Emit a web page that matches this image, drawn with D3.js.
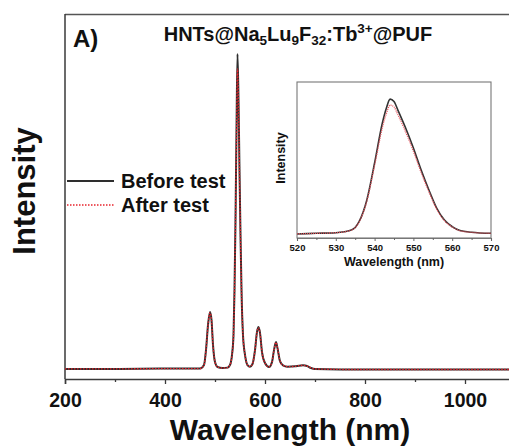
<!DOCTYPE html>
<html>
<head>
<meta charset="utf-8">
<script src="https://cdn.jsdelivr.net/npm/d3@7/dist/d3.min.js"></script>
<style>
  html, body { margin: 0; padding: 0; background: #fff; }
  svg { display: block; }
  text { font-family: "Liberation Sans", Arial, sans-serif; font-weight: bold; fill: #111; }
</style>
</head>
<body>
<svg id="chart" width="509" height="447"></svg>
<script>
// ---- Main spectrum data ----
const mainWavelength = [200, 300, 400, 450, 470, 478, 482, 486, 490, 493, 496, 500, 505, 515, 525, 530, 534, 537, 539, 541, 543, 545, 547, 549, 551, 553, 556, 560, 565, 570, 575, 580, 584, 587, 590, 594, 600, 608, 614, 618, 622, 625, 630, 636, 645, 660, 668, 676, 684, 692, 700, 800, 900, 1000, 1100];
const beforeValues   = [0.031, 0.031, 0.032, 0.032, 0.032, 0.043, 0.089, 0.166, 0.206, 0.182, 0.105, 0.052, 0.037, 0.034, 0.035, 0.043, 0.074, 0.135, 0.274, 0.489, 0.766, 1.0, 0.858, 0.643, 0.443, 0.274, 0.135, 0.074, 0.043, 0.038, 0.046, 0.089, 0.145, 0.160, 0.142, 0.083, 0.049, 0.037, 0.052, 0.089, 0.114, 0.095, 0.055, 0.042, 0.038, 0.039, 0.041, 0.042, 0.040, 0.034, 0.031, 0.029, 0.029, 0.029, 0.029];
const afterValues    = [0.031, 0.031, 0.032, 0.032, 0.032, 0.043, 0.089, 0.165, 0.204, 0.181, 0.105, 0.052, 0.037, 0.034, 0.035, 0.043, 0.074, 0.135, 0.272, 0.484, 0.750, 0.955, 0.840, 0.633, 0.438, 0.272, 0.135, 0.074, 0.043, 0.038, 0.046, 0.089, 0.144, 0.158, 0.141, 0.083, 0.049, 0.037, 0.052, 0.089, 0.113, 0.095, 0.055, 0.042, 0.038, 0.039, 0.041, 0.042, 0.040, 0.034, 0.031, 0.029, 0.029, 0.029, 0.029];
const mainXTicks = [200, 400, 600, 800, 1000];
const mainXMinor = [300, 500, 700, 900, 1100];

// ---- Inset data (zoom on 545 nm peak) ----
const insetWavelength = [520, 525, 530, 534, 536, 538, 540, 542, 543, 544, 545, 546, 548, 550, 552, 554, 556, 558, 560, 562, 565, 570];
const insetBefore     = [0.026, 0.030, 0.034, 0.051, 0.105, 0.244, 0.481, 0.737, 0.830, 0.890, 0.875, 0.820, 0.705, 0.577, 0.436, 0.308, 0.192, 0.115, 0.073, 0.048, 0.037, 0.030];
const insetAfter      = [0.026, 0.030, 0.034, 0.050, 0.102, 0.236, 0.465, 0.708, 0.795, 0.852, 0.840, 0.790, 0.680, 0.556, 0.420, 0.296, 0.185, 0.111, 0.070, 0.047, 0.036, 0.030];
const insetXTicks = [520, 530, 540, 550, 560, 570];
const insetXMinor = [525, 535, 545, 555, 565];

const seriesNames = ["Before test", "After test"];
const titleParts = [
  {t: "HNTs@Na", s: 0}, {t: "5", s: 1}, {t: "Lu", s: 0}, {t: "9", s: 1},
  {t: "F", s: 0}, {t: "32", s: 1}, {t: ":Tb", s: 0}, {t: "3+", s: -1}, {t: "@PUF", s: 0}
];

const svg = d3.select("#chart");
const AX = "#3a3a3a";

// ---- main scales ----
const x = d3.scaleLinear().domain([200, 1100]).range([65, 515]);
const y = d3.scaleLinear().domain([0, 1.123]).range([379, 14]);

// frame: top and left, bottom axis
svg.append("line").attr("x1", 65).attr("x2", 520).attr("y1", 14.5).attr("y2", 14.5)
  .attr("stroke", "#555").attr("stroke-width", 1.5);
svg.append("line").attr("x1", 65).attr("x2", 65).attr("y1", 14).attr("y2", 379)
  .attr("stroke", AX).attr("stroke-width", 1.5);
svg.append("line").attr("x1", 515).attr("x2", 515).attr("y1", 14).attr("y2", 379)
  .attr("stroke", AX).attr("stroke-width", 1.5);

const xAxis = d3.axisBottom(x).tickValues(mainXTicks).tickSize(5).tickPadding(9).tickFormat(d3.format("d"));
const gx = svg.append("g").attr("transform", "translate(0,379)").call(xAxis);
gx.select(".domain").attr("stroke", AX).attr("stroke-width", 1.5);
gx.selectAll(".tick line").attr("stroke", AX).attr("stroke-width", 1.3);
gx.selectAll(".tick text").style("font-size", "19.5px").style("font-family", "Liberation Sans, Arial, sans-serif").style("font-weight", "bold").attr("fill", "#111");
const gxm = svg.append("g").attr("transform", "translate(0,379)")
  .call(d3.axisBottom(x).tickValues(mainXMinor).tickSize(3).tickFormat(""));
gxm.select(".domain").remove();
gxm.selectAll(".tick line").attr("stroke", AX).attr("stroke-width", 1.3);

// lines
const lineMain = (vals) => d3.line()
  .x((d, i) => x(mainWavelength[i]))
  .y((d) => y(d))
  .curve(d3.curveMonotoneX)(vals);

svg.append("path").attr("d", lineMain(beforeValues))
  .attr("fill", "none").attr("stroke", "#2e2e2e").attr("stroke-width", 2);
svg.append("path").attr("d", lineMain(afterValues))
  .attr("fill", "none").attr("stroke", "#e8232c").attr("stroke-width", 1.4)
  .attr("stroke-dasharray", "1.5,1.5");

// labels
svg.append("text").attr("x", 290).attr("y", 440).attr("text-anchor", "middle")
  .style("font-size", "30px").text("Wavelength (nm)");
svg.append("text").attr("transform", "translate(35,191) rotate(-90)").attr("text-anchor", "middle")
  .style("font-size", "31px").text("Intensity");
svg.append("text").attr("x", 73).attr("y", 47).style("font-size", "24px").text("A)");

const title = svg.append("text").attr("x", 298).attr("y", 41).attr("text-anchor", "middle")
  .style("font-size", "20px");
let prevShift = 0;
titleParts.forEach(p => {
  const shift = p.s === 1 ? 4 : (p.s === -1 ? -8 : 0);
  title.append("tspan").attr("dy", shift - prevShift)
    .style("font-size", p.s === 0 ? "20px" : "13.5px").text(p.t);
  prevShift = shift;
});

// legend
const legendY = [181, 205];
const legendStyles = [
  {stroke: "#2e2e2e", w: 1.8, dash: null},
  {stroke: "#e8232c", w: 1.5, dash: "1.5,1.5"}
];
seriesNames.forEach((name, i) => {
  const l = svg.append("line").attr("x1", 67).attr("x2", 114)
    .attr("y1", legendY[i]).attr("y2", legendY[i])
    .attr("stroke", legendStyles[i].stroke).attr("stroke-width", legendStyles[i].w);
  if (legendStyles[i].dash) l.attr("stroke-dasharray", legendStyles[i].dash);
  svg.append("text").attr("x", 121).attr("y", legendY[i] + 6.5)
    .style("font-size", "20px").text(name);
});

// ---- inset ----
const ix = d3.scaleLinear().domain([520, 570]).range([297, 491]);
const iy = d3.scaleLinear().domain([0, 1]).range([238, 82]);

svg.append("rect").attr("x", 297).attr("y", 82).attr("width", 194).attr("height", 156)
  .attr("fill", "#fff").attr("stroke", "#777").attr("stroke-width", 1.1);

const ixAxis = d3.axisBottom(ix).tickValues(insetXTicks).tickSize(3).tickPadding(3).tickFormat(d3.format("d"));
const gix = svg.append("g").attr("transform", "translate(0,238)").call(ixAxis);
gix.select(".domain").attr("stroke", "#777").attr("stroke-width", 1.1);
gix.selectAll(".tick line").attr("stroke", "#666");
gix.selectAll(".tick text").style("font-size", "9.5px").style("font-family", "Liberation Sans, Arial, sans-serif").style("font-weight", "bold").attr("fill", "#333");
const gixm = svg.append("g").attr("transform", "translate(0,238)")
  .call(d3.axisBottom(ix).tickValues(insetXMinor).tickSize(2).tickFormat(""));
gixm.select(".domain").remove();
gixm.selectAll(".tick line").attr("stroke", "#666");

const lineInset = (vals) => d3.line()
  .x((d, i) => ix(insetWavelength[i]))
  .y((d) => iy(d))
  .curve(d3.curveMonotoneX)(vals);

svg.append("path").attr("d", lineInset(insetBefore))
  .attr("fill", "none").attr("stroke", "#333").attr("stroke-width", 1.6);
svg.append("path").attr("d", lineInset(insetAfter))
  .attr("fill", "none").attr("stroke", "#e8505a").attr("stroke-width", 1.3)
  .attr("stroke-dasharray", "1,1");

svg.append("text").attr("x", 394).attr("y", 266).attr("text-anchor", "middle")
  .style("font-size", "12.5px").text("Wavelength (nm)");
svg.append("text").attr("transform", "translate(285,158) rotate(-90)").attr("text-anchor", "middle")
  .style("font-size", "12.5px").text("Intensity");
</script>
</body>
</html>
